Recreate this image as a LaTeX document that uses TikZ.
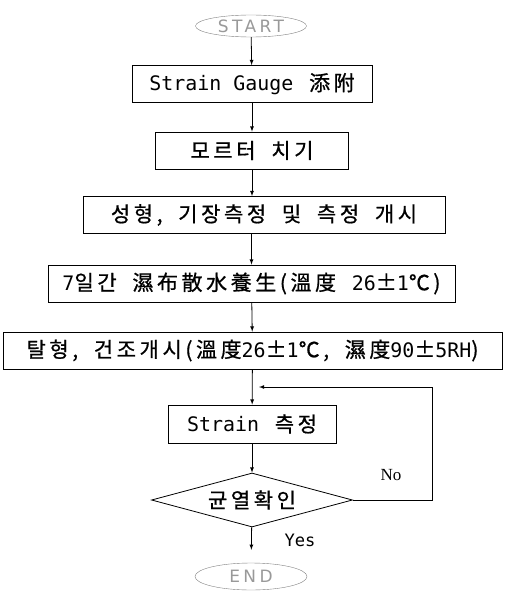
\documentclass[tikz,border=0pt]{standalone}
\usepackage{fontspec}
\setmainfont{Noto Sans CJK KR}[LetterSpace=17, WordSpace=1.9, FakeBold=0.8]
\newfontfamily\latn{DejaVu Sans Mono}[Scale=0.95]
\newfontfamily\termfont{DejaVu Sans}[LetterSpace=20]
\newfontfamily\nofont{Liberation Serif}
\usetikzlibrary{shapes.geometric}

\begin{document}
\begin{tikzpicture}[x=1pt, y=-1pt, >=latex, line width=0.8pt,
    stepbox/.style={draw, rectangle, minimum height=37, inner sep=0, font=\fontsize{21}{24}\selectfont},
    terminal/.style={draw=gray, ellipse, thin, text=gray!80, inner sep=0, font=\fontsize{17}{18}\termfont},
    decision/.style={draw, diamond, aspect=3.7, minimum width=201, minimum height=54, inner sep=0, font=\fontsize{21}{24}\selectfont}]
    \useasboundingbox (0,0) rectangle (510,591);

    % Start and end
    \node[terminal, minimum width=111, minimum height=22] (start) at (251,26) {START};
    \node[terminal, minimum width=112, minimum height=27] (end) at (251,576.5) {END};

    % Process steps
    \node[stepbox, minimum width=240] (gauge) at (252,84) {{\latn Strain Gauge} 添附};
    \node[stepbox, minimum width=193] (mortar) at (252,150.5) {모르터 치기};
    \node[stepbox, minimum width=362] (form) at (264,215) {성형, 기장측정 및 측정 개시};
    \node[stepbox, minimum width=407] (cure) at (251.5,283.5) {{\latn 7}일간 濕布散水養生(溫度 {\latn 26}±{\latn 1}℃)};
    \node[stepbox, minimum width=499] (demold) at (252.5,350.5) {탈형, 건조개시(溫度{\latn 26}±{\latn 1}℃, 濕度{\latn 90}±{\latn 5RH})};
    \node[stepbox, minimum width=168, minimum height=38] (strain) at (252,424) {{\latn Strain} 측정};

    % Crack check
    \node[decision] (check) at (252,500) {균열확인};
    \node[font=\fontsize{17}{20}\nofont] (no) at (391,475) {No};
    \node[font=\fontsize{18}{20}\latn] (yes) at (300,540) {Yes};

    % Arrows
    \draw[->] (start) -- (gauge);
    \draw[->] (gauge) -- (mortar);
    \draw[->] (mortar) -- (mortar |- form.north);
    \draw[->] (form.south -| cure) -- (cure);
    \draw[->] (cure) -- (demold);
    \draw[->] (demold) -- (strain);
    \draw[->] (strain) -- (check);
    \draw[->, shorten >=13] (check) -- (end);

    % Loop back when no crack
    \coordinate (back) at (432,500);
    \coordinate (merge) at (259,387);
    \draw[->] (check.east) -- (back) |- (merge);
\end{tikzpicture}
\end{document}
